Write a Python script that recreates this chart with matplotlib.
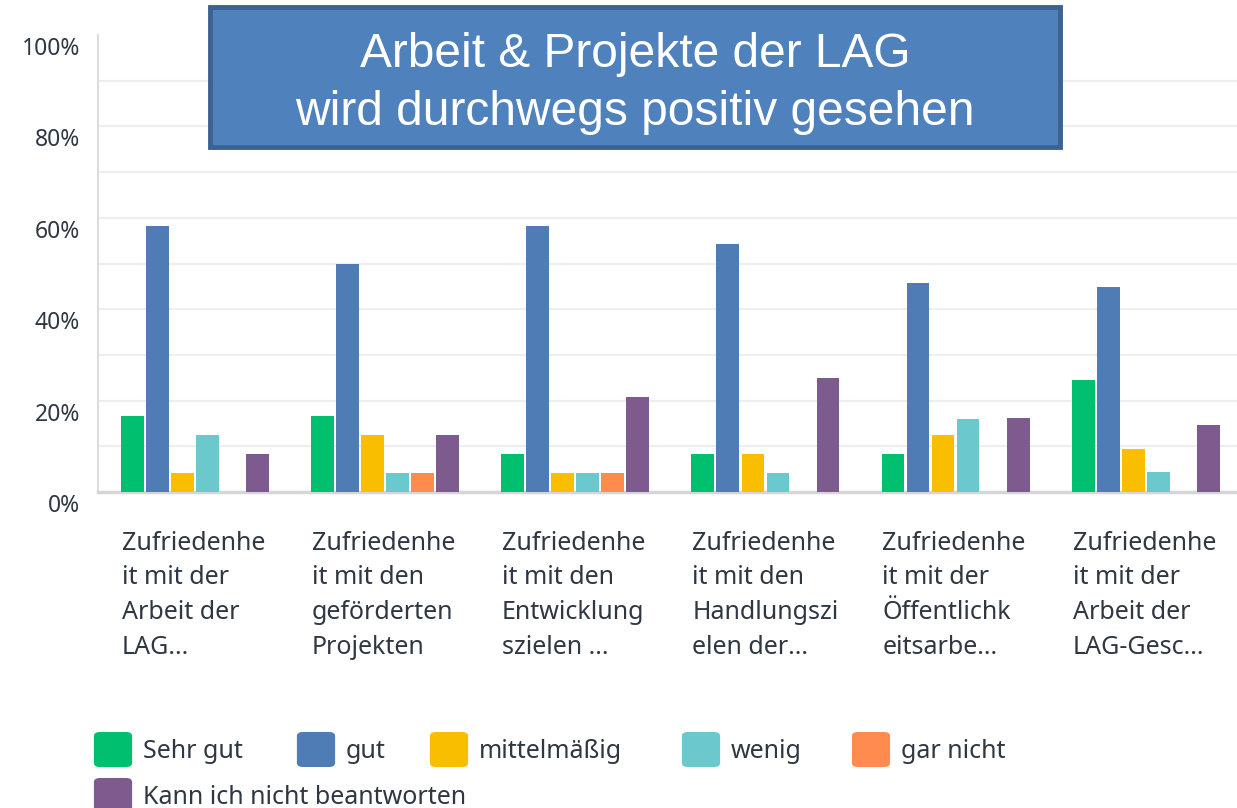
import numpy as np
import matplotlib
matplotlib.use('Agg')
from matplotlib import pyplot as plt
from matplotlib.patches import FancyBboxPatch, Rectangle
from matplotlib.transforms import ScaledTranslation

categories = ['Zufriedenhe\nit mit der\nArbeit der\nLAG...',
              'Zufriedenhe\nit mit den\ngeförderten\nProjekten',
              'Zufriedenhe\nit mit den\nEntwicklung\nszielen ...',
              'Zufriedenhe\nit mit den\nHandlungszi\nelen der...',
              'Zufriedenhe\nit mit der\nÖffentlichk\neitsarbe...',
              'Zufriedenhe\nit mit der\nArbeit der\nLAG-Gesc...']
series_names = ['Sehr gut', 'gut', 'mittelmäßig', 'wenig', 'gar nicht',
                'Kann ich nicht beantworten']
sehr_gut = [16.7, 16.7, 8.3, 8.3, 8.3, 24.4]
gut = [58.3, 50.0, 58.3, 54.2, 45.8, 44.8]
mittel = [4.2, 12.5, 4.2, 8.3, 12.5, 9.5]
wenig = [12.5, 4.2, 4.2, 4.2, 16.0, 4.4]
gar_nicht = [0, 4.2, 4.2, 0, 0, 0]
kann_nicht = [8.3, 12.5, 20.8, 25.0, 16.2, 14.6]
yticks = [0, 20, 40, 60, 80, 100]
ytick_labels = ['0%', '20%', '40%', '60%', '80%', '100%']

colors = ['#00BF6F', '#507CB6', '#F9BE00', '#6BC8CD', '#FF8B4F', '#7D5B8F']
txt_col = '#2E3742'
W, H = 1237, 808

def fx(x):
    return x / W

def fy(y):
    return 1 - y / H

fig = plt.figure(figsize=(W / 100, H / 100), dpi=100)
ax = fig.add_axes([fx(98), fy(492), fx(1237) - fx(98), fy(35) - fy(492)])

x = np.arange(len(categories))
slot = 0.1316
bw = 0.12
all_series = [sehr_gut, gut, mittel, wenig, gar_nicht, kann_nicht]
for k, vals in enumerate(all_series):
    ax.bar(x + (k - 2.5) * slot, vals, width=bw, color=colors[k], zorder=3)

for v in range(10, 100, 10):
    ax.axhline(v, color='#EEEEEE', lw=1.6, zorder=0)

ax.set_xlim(-0.51, 5.48)
ax.set_ylim(0, 100)
ax.set_xticks([])
ax.set_yticks(yticks)
ax.set_yticklabels(ytick_labels)
ax.tick_params(axis='y', length=0, pad=13, labelsize=16.5, labelcolor=txt_col)
for lab in ax.get_yticklabels():
    lab.set_fontfamily('Noto Sans')
    lab.set_transform(lab.get_transform() + ScaledTranslation(0, -0.11, fig.dpi_scale_trans))

ax.spines.top.set_visible(False)
ax.spines.right.set_visible(False)
ax.spines.left.set_color('#DDDDDD')
ax.spines.left.set_linewidth(1.5)
ax.spines.bottom.set_color('#D6D6D6')
ax.spines.bottom.set_linewidth(2.5)

# category labels under the groups
for i, cat in enumerate(categories):
    ax.annotate(cat, xy=(i - 0.385, 0), xycoords='data', textcoords='offset pixels',
                xytext=(0, -39), ha='left', va='top', fontsize=18, family='Noto Sans',
                color=txt_col, linespacing=1.5)

# legend drawn by hand
leg_pos = [(94, 750), (297, 750), (430, 750), (682, 750), (852, 750), (94, 796)]
for k, name in enumerate(series_names):
    lx, ly = leg_pos[k]
    sq = FancyBboxPatch((fx(lx + 3), fy(ly + 15)), fx(32), 31 / H,
                        boxstyle='round,pad=0.0025,rounding_size=0.005',
                        transform=fig.transFigure, facecolor=colors[k], edgecolor='none')
    fig.add_artist(sq)
    fig.text(fx(lx + 49), fy(ly + 1), name, ha='left', va='center', fontsize=18,
             family='Noto Sans', color=txt_col)

# title box
box = Rectangle((fx(210), fy(147)), fx(850), 140 / H, transform=fig.transFigure,
                facecolor='#4F81BD', edgecolor='#3C6290', lw=3.5)
fig.add_artist(box)
fig.text(fx(635), fy(67), 'Arbeit & Projekte der LAG', ha='center', va='baseline',
         fontsize=34.5, family='Liberation Sans', color='white')
fig.text(fx(635), fy(125), 'wird durchwegs positiv gesehen', ha='center', va='baseline',
         fontsize=34.5, family='Liberation Sans', color='white')

plt.savefig('out.png', dpi=100)
